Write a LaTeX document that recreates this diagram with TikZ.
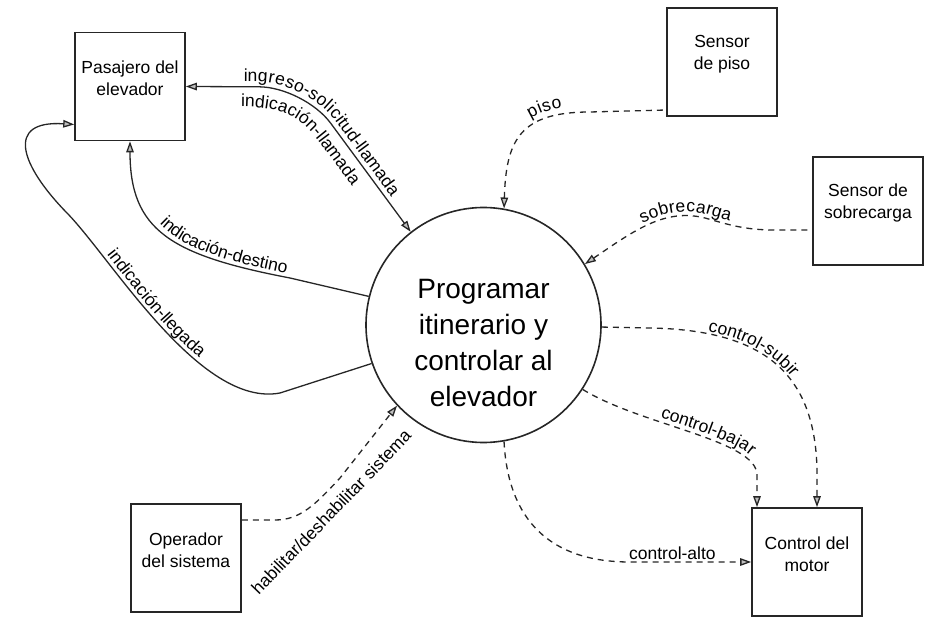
\documentclass[tikz,border=0pt]{standalone}
\usepackage{fontspec}
\setmainfont{Liberation Sans}
\usetikzlibrary{arrows.meta, decorations.text}

\newcommand{\flowfont}{\fontsize{17.5}{22}\selectfont}
\newcommand{\procfont}{\fontsize{28}{36}\selectfont}

\begin{document}
\begin{tikzpicture}[x=1pt, y=-1pt, >={Triangle[length=11pt,width=7.5pt,fill=gray!50]},
    flowtext/.style n args={3}{postaction={decorate, decoration={text along path,
        text={|\flowfont|#1}, text align={left indent=#2}, raise=#3}}}]
    \tikzstyle{entity}=[draw=black!85, line width=1.6pt, minimum width=110pt, minimum height=108pt]
    \tikzstyle{entitytext}=[align=center, yshift=8pt, font=\flowfont]
    \tikzstyle{process}=[draw=black!85, circle, line width=1.6pt, minimum size=235pt]
    \tikzstyle{flow}=[draw=black!85, line width=1.3pt]
    \tikzstyle{ctrl}=[flow, dash pattern=on 6pt off 5pt]

    \useasboundingbox (0,0) rectangle (926,617);

    \node[process, label={[align=center, yshift=-18pt, font=\procfont]center:Programar\\itinerario y\\controlar al\\elevador}] (prog) at (483.5,325) {};

    \node[entity, label={[entitytext]center:Pasajero del\\elevador}] (pas) at (130,86.5) {};
    \node[entity, label={[entitytext]center:Sensor\\de piso}] (spiso) at (722,62) {};
    \node[entity, label={[entitytext]center:Sensor de\\sobrecarga}] (ssob) at (868,211) {};
    \node[entity, label={[entitytext]center:Operador\\del sistema}] (oper) at (186,558) {};
    \node[entity, label={[entitytext]center:Control del\\motor}] (motor) at (807,562) {};

    % data flows with the passenger
    \draw[flow, <->, rounded corners=45pt,
        flowtext={ingreso-solicitud-llamada}{58pt}{5pt}]
        (pas.east) -- (304,87) -- (prog.128);
    % the returning flow is written below the same line
    \path[flowtext={indicación-llamada}{0pt}{0pt}]
        (241,107) .. controls (285,107) and (300,118) .. (317,139) -- (370,210);
    \draw[flow, <-, flowtext={indicación-destino}{92pt}{4pt}]
        (pas.south) .. controls (130,230) and (170,255) .. (290,278) -- (prog.166);
    \draw[flow, <-, flowtext={indicación-llegada}{195pt}{4pt}]
        ([yshift=-38pt]pas.west) .. controls (5,120) and (20,165) .. (67,213)
        .. controls (112,259) and (200,408) .. (280,393) -- (prog.199);

    % control flows from the sensors
    \draw[ctrl, <-, flowtext={piso}{93pt}{6pt}]
        (prog.80) .. controls (506,140) and (520,112) .. (590,112) -- ([yshift=-48pt]spiso.west);
    \draw[ctrl, <-, flowtext={sobrecarga}{70pt}{4pt}]
        (prog.31) .. controls (635,230) and (665,208) .. (705,218)
        .. controls (730,225) and (745,230) .. (775,230) -- ([yshift=-19pt]ssob.west);

    % control flows to the motor
    \draw[ctrl, ->, flowtext={control-subir}{106pt}{2pt}]
        (prog.-1) -- (650,328) .. controls (760,330) and (815,370) .. (817,470) -- ([xshift=10pt]motor.north);
    \draw[ctrl, ->, flowtext={control-bajar}{83pt}{4pt}]
        (prog.-33) .. controls (640,425) and (757,440) .. (757,475) -- ([xshift=-50pt]motor.north);
    \draw[ctrl, ->] (prog.-80) .. controls (508,520) and (550,562) .. (630,562)
        -- node[pos=0.35, above=-2pt, font=\flowfont] {control-alto} (motor.west);

    % operator
    \draw[ctrl, ->] ([yshift=38pt]oper.east) -- (275,520) .. controls (300,520) and (315,505) .. (340,478) -- (prog.223);
    \node[rotate=46, font=\flowfont] (habil) at (331,512) {habilitar/deshabilitar sistema};
\end{tikzpicture}
\end{document}
